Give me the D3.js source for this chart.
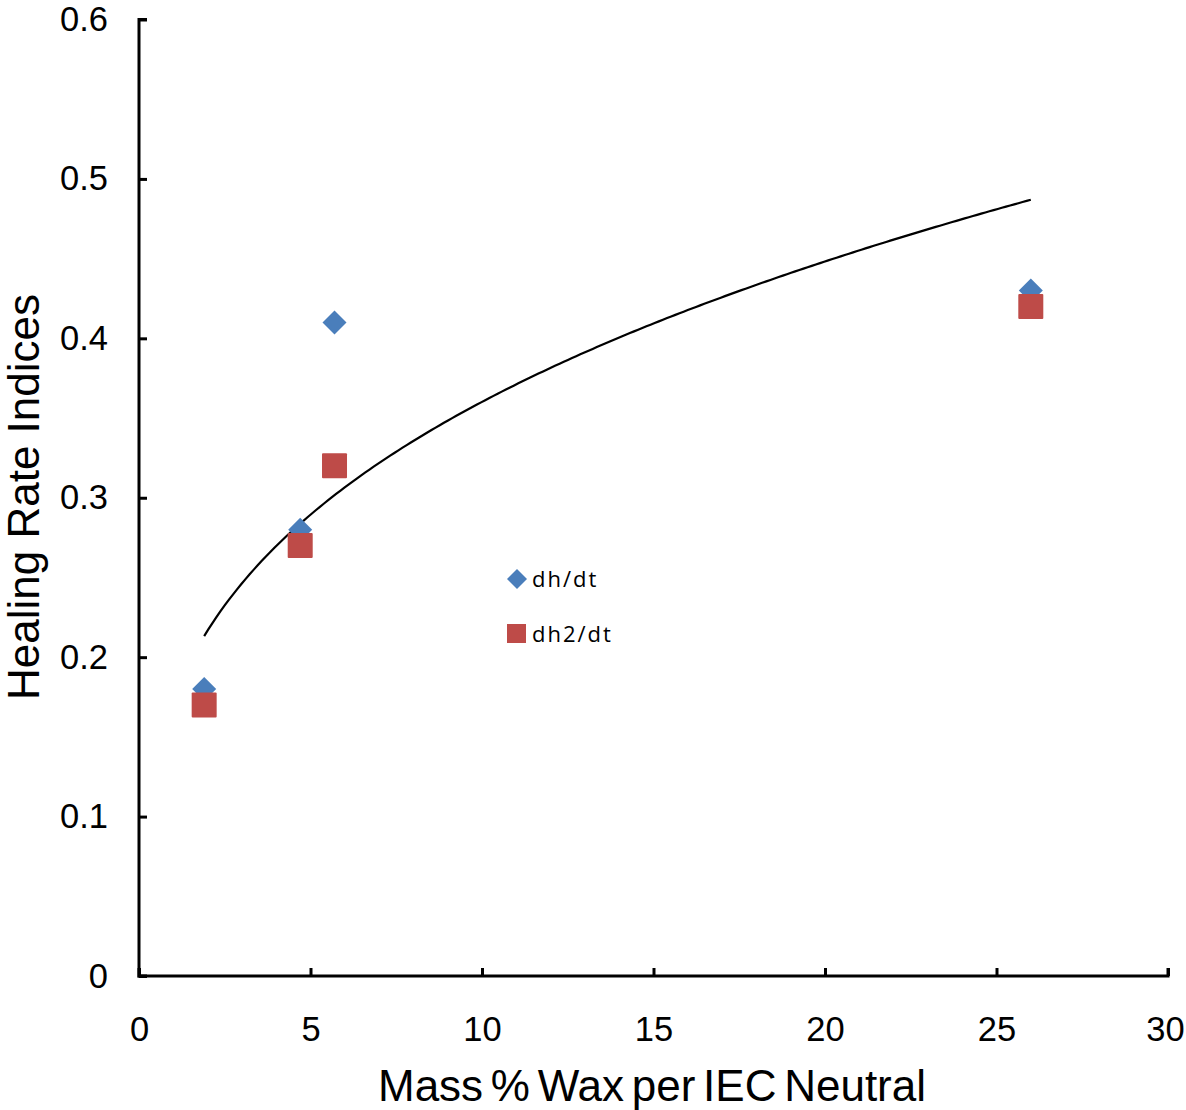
<!DOCTYPE html>
<html><head><meta charset="utf-8">
<script src="https://cdn.jsdelivr.net/npm/d3@7"></script>
<style>body{margin:0;background:#fff}svg{display:block}</style>
</head><body><svg id="c" width="1186" height="1110"></svg>
<script>
const xValues = [1.9, 4.7, 5.7, 26];
const dhdt = [0.18, 0.28, 0.41, 0.43];
const dh2dt = [0.17, 0.27, 0.32, 0.42];
const xTicks = [0, 5, 10, 15, 20, 25, 30];
const yTicks = [0, 0.1, 0.2, 0.3, 0.4, 0.5, 0.6];
const seriesNames = ["dh/dt", "dh2/dt"];

const svg = d3.select("#c");
const x = d3.scaleLinear().domain([0, 30]).range([139, 1168]);
const y = d3.scaleLinear().domain([0, 0.6]).range([976, 19.5]);

// power trendline fit (least squares in log space) on dh/dt, like Excel
const lx = xValues.map(Math.log), ly = dhdt.map(Math.log);
const mx = d3.mean(lx), my = d3.mean(ly);
const b = d3.sum(lx.map((v,i)=>(v-mx)*(ly[i]-my))) / d3.sum(lx.map(v=>(v-mx)*(v-mx)));
const a = Math.exp(my - b*mx);
const xmin = d3.min(xValues), xmax = d3.max(xValues);
const trend = d3.range(0, 201).map(i => { const xv = xmin + (xmax-xmin)*i/200; return [xv, a*Math.pow(xv,b)]; });

svg.append("path").datum(trend)
  .attr("d", d3.line().x(d=>x(d[0])).y(d=>y(d[1])))
  .attr("fill","none").attr("stroke","#000").attr("stroke-width",2.2);

// axes
const xAxis = d3.axisBottom(x).tickValues(xTicks).tickSize(-8).tickPadding(41).tickFormat(d3.format("d"));
const gx = svg.append("g").attr("transform","translate(0,976)").call(xAxis);
const yAxis = d3.axisLeft(y).tickValues(yTicks).tickSize(-8).tickPadding(31).tickFormat(d=> d===0 ? "0" : d3.format(".1f")(d));
const gy = svg.append("g").attr("transform","translate(139,0)").call(yAxis);
[gx, gy].forEach(g => {
  g.select(".domain").attr("stroke","#000").attr("stroke-width",3);
  g.selectAll(".tick line").attr("stroke","#000").attr("stroke-width",3);
  g.selectAll(".tick text").attr("fill","#000").style("font-family","'Liberation Sans', Arial, sans-serif").style("font-size","34.5px");
});
gx.selectAll(".tick text").filter(d => d === 30).attr("x", -3);
gx.select(".domain").attr("d","M139,-8V0H1168V-8");
gy.select(".domain").attr("d","M8,19.5H0V976H8");

// series
svg.append("g").selectAll("path").data(xValues).join("path")
  .attr("d", "M0,-12L12,0L0,12L-12,0Z")
  .attr("transform",(d,i)=>`translate(${x(d)},${y(dhdt[i])})`)
  .attr("fill","#4a7ebb");
svg.append("g").selectAll("rect").data(xValues).join("rect")
  .attr("x",d=>x(d)-12.5).attr("y",(d,i)=>y(dh2dt[i])-12.5)
  .attr("width",25).attr("height",25).attr("rx",1)
  .attr("fill","#be4b48");

// legend
const lg = svg.append("g").style("font-family","'Open Sans', sans-serif").style("font-size","22px").style("letter-spacing","2px");
lg.append("path").attr("d","M517,569L527,579L517,589L507,579Z").attr("fill","#4a7ebb");
lg.append("text").attr("x",532).attr("y",587).text(seriesNames[0]);
lg.append("rect").attr("x",507).attr("y",624).attr("width",19).attr("height",19).attr("fill","#be4b48");
lg.append("text").attr("x",532).attr("y",642).text(seriesNames[1]);

// titles
svg.append("text").attr("x",652).attr("y",1101).attr("text-anchor","middle")
  .style("font-family","'Liberation Sans', Arial, sans-serif").style("font-size","44px").style("word-spacing","-4.5px")
  .text("Mass % Wax per IEC Neutral");
svg.append("text").attr("transform","translate(39,497) rotate(-90)").attr("text-anchor","middle")
  .style("font-family","'Liberation Sans', Arial, sans-serif").style("font-size","44px")
  .text("Healing Rate Indices");
</script></body></html>
